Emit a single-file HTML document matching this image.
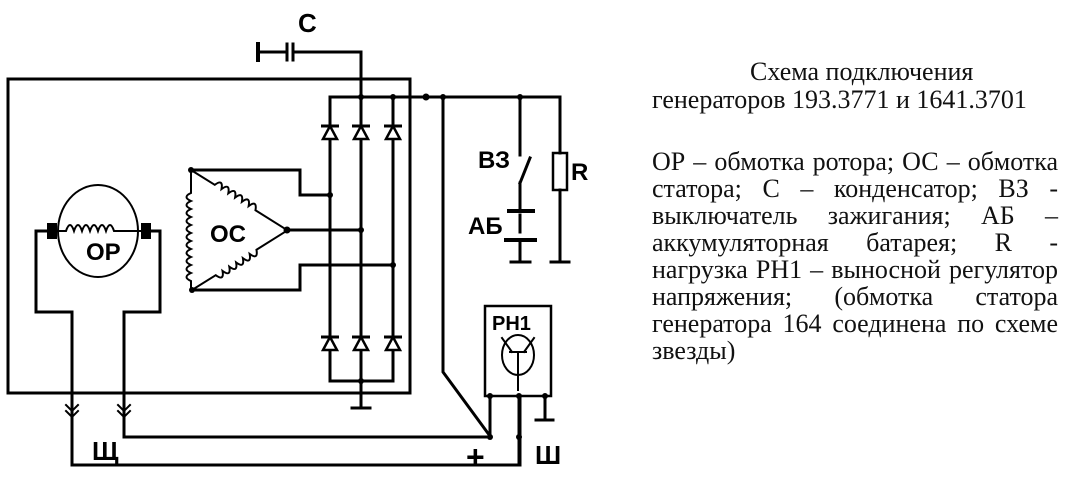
<!DOCTYPE html>
<html><head><meta charset="utf-8"><style>
body{margin:0;background:#fff;width:1074px;height:480px;overflow:hidden;position:relative;font-family:"Liberation Serif",serif;}
.t{position:absolute;font-size:26px;line-height:27px;color:#111;white-space:nowrap}
.j{position:absolute;left:652px;width:406px;font-size:26px;line-height:27px;color:#111;text-align:justify;text-align-last:justify;white-space:nowrap}
svg{position:absolute;left:0;top:0}
svg text{font-family:"Liberation Sans",sans-serif;font-weight:bold;fill:#000}
</style></head><body>
<svg width="640" height="480" viewBox="0 0 640 480">
<g stroke="#000" stroke-width="3" fill="none" stroke-linecap="square">
<rect x="8" y="79" width="402" height="314"/>
<path d="M258 52H285M294 52H361V97"/>
<path d="M258 44V60" stroke-width="4"/>
<path d="M287 44V60M293 44V60" stroke-width="3"/>
<path d="M330 97H560"/>
<path d="M330 97V381M361 97V408M393 97V381M330 381H393"/>
<path d="M352 408H370"/>
<path d="M191 170H300V195H330M287 230H361M192 290H300V265H393"/>
<path d="M443 97V372L490 436"/>
<path d="M520 97V155M520 183V208M530 158L520 183"/>
<path d="M520 215V232M520 240V262M511 262H530"/>
<path d="M509 211H533" stroke-width="4"/>
<path d="M506 240H535" stroke-width="4"/>
<path d="M560 97V153M560 190V262M551 262H569"/>
<rect x="553" y="153" width="14" height="37" stroke-width="2.5"/>
<ellipse cx="98" cy="231" rx="40" ry="46" stroke-width="2"/>
<path d="M52 231H36V312H72V465H520V396M147 231H160V312H124V437H490V396M545 396V420M536 420H553"/>
<path d="M519 396V465"/>
<path d="M66 405L72 411L78 405M66 411L72 417L78 411" stroke-width="2"/>
<path d="M118 405L124 411L130 405M118 411L124 417L130 411" stroke-width="2"/>
<rect x="485" y="306" width="66" height="90" stroke-width="2.5"/>
<ellipse cx="518" cy="355" rx="16" ry="20" stroke-width="2"/>
<path d="M502 338L512 352M534 338L524 352M510 352H526M518 352V390" stroke-width="2"/>
<path d="M57 231H66q4-12 8 0q4-12 8 0q4-12 8 0q4-12 8 0q4-12 8 0q4-12 8 0H141" stroke-width="2"/>
<g stroke-width="2">
<path d="M191 170V193q-9 4 0 8q-9 4 0 8q-9 4 0 8q-9 4 0 8q-9 4 0 8q-9 4 0 8q-9 4 0 8q-9 4 0 8q-9 4 0 8q-9 4 0 8q-9 4 0 8V290"/>
<g transform="translate(191,170) rotate(32)"><path d="M0 0H28q4-10 8 0q4-10 8 0q4-10 8 0q4-10 8 0q4-10 8 0q4-10 8 0H113"/></g>
<g transform="translate(192,290) rotate(-32)"><path d="M0 0H28q4 10 8 0q4 10 8 0q4 10 8 0q4 10 8 0q4 10 8 0q4 10 8 0H113"/></g>
</g>
</g>
<rect x="47" y="223" width="10" height="16" fill="#000"/>
<rect x="141" y="223" width="10" height="16" fill="#000"/>
<g fill="#fff" stroke="#000" stroke-width="2.5">
<path d="M323 139H337L330 126Z M354 139H368L361 126Z M386 139H400L393 126Z"/>
<path d="M323 350H337L330 337Z M354 350H368L361 337Z M386 350H400L393 337Z"/>
</g>
<g stroke="#000" stroke-width="3">
<path d="M321 126H339M352 126H370M384 126H402M321 337H339M352 337H370M384 337H402"/>
</g>
<g fill="#000">
<circle cx="361" cy="97" r="3"/><circle cx="393" cy="97" r="3"/><circle cx="426" cy="97" r="3.5"/><circle cx="443" cy="97" r="3"/><circle cx="520" cy="97" r="3"/>
<circle cx="330" cy="195" r="3"/><circle cx="361" cy="230" r="3"/><circle cx="393" cy="265" r="3"/>
<circle cx="191" cy="170" r="3"/><circle cx="287" cy="230" r="3.5"/><circle cx="192" cy="290" r="3"/>
<circle cx="361" cy="381" r="3"/><circle cx="490" cy="396" r="3"/><circle cx="519" cy="396" r="3"/><circle cx="545" cy="396" r="3"/>
<circle cx="490" cy="437" r="3"/><circle cx="519" cy="437" r="3"/>
</g>
<text x="298" y="32" font-size="26">С</text>
<text x="478" y="168" font-size="24">ВЗ</text>
<text x="571" y="180" font-size="24">R</text>
<text x="468" y="234" font-size="24">АБ</text>
<text x="210" y="242" font-size="24">ОС</text>
<text x="86" y="260" font-size="24">ОР</text>
<text x="492" y="330" font-size="20">РН1</text>
<text x="92" y="460" font-size="26">Щ</text>
<text x="466" y="468" font-size="32">+</text>
<text x="535" y="464" font-size="26">Ш</text>
</svg>
<div class="t" style="left:750px;top:58px">Схема подключения</div>
<div class="t" style="left:652px;top:86px">генераторов 193.3771 и 1641.3701</div>
<div class="j" style="top:148px">ОР – обмотка ротора; ОС – обмотка</div>
<div class="j" style="top:175px">статора; С – конденсатор; ВЗ -</div>
<div class="j" style="top:202px">выключатель зажигания; АБ –</div>
<div class="j" style="top:229px">аккумуляторная батарея; R -</div>
<div class="j" style="top:256px">нагрузка РН1 – выносной регулятор</div>
<div class="j" style="top:283px">напряжения; (обмотка статора</div>
<div class="j" style="top:310px">генератора 164 соединена по схеме</div>
<div class="t" style="left:652px;top:337px">звезды)</div>
</body></html>
